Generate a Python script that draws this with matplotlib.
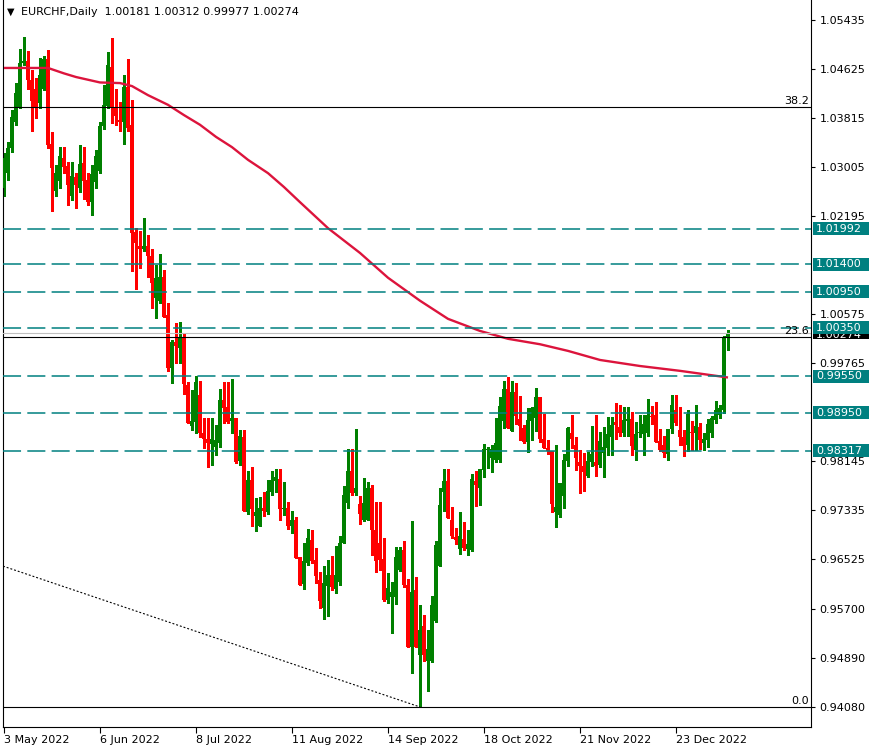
import numpy as np
import matplotlib
matplotlib.use("Agg")
import matplotlib.pyplot as plt
from matplotlib.patches import Rectangle
from matplotlib.transforms import blended_transform_factory

plt.rcParams['font.family'] = ['DejaVu Sans']
plt.rcParams['lines.scale_dashes'] = False

# ---------------- data ----------------
opens = [1.0266, 1.0291, 1.0332, 1.0375, 1.0400, 1.0473, 1.0476, 1.0445, 1.0431, 1.0407,
         1.0431, 1.0479, 1.0340, 1.0261, 1.0278, 1.0316, 1.0302, 1.0253, 1.0284, 1.0266,
         1.0307, 1.0279, 1.0244, 1.0276, 1.0294, 1.0369, 1.0402, 1.0466, 1.0398, 1.0379,
         1.0375, 1.0433, 1.0370, 1.0193, 1.0170, 1.0165, 1.0170, 1.0154, 1.0084, 1.0079,
         1.0120, 1.0056, 0.9968, 1.0011, 1.0001, 1.0020, 0.9940, 0.9872, 0.9879, 0.9924,
         0.9862, 0.9852, 0.9843, 0.9838, 0.9844, 0.9915, 0.9904, 0.9881, 0.9886, 0.9815,
         0.9854, 0.9730, 0.9783, 0.9724, 0.9707, 0.9737, 0.9730, 0.9763, 0.9781, 0.9785,
         0.9735, 0.9737, 0.9707, 0.9717, 0.9656, 0.9611, 0.9646, 0.9684, 0.9651, 0.9618,
         0.9571, 0.9608, 0.9626, 0.9603, 0.9614, 0.9679, 0.9745, 0.9798, 0.9762, 0.9743,
         0.9717, 0.9718, 0.9771, 0.9700, 0.9680, 0.9652, 0.9585, 0.9590, 0.9590, 0.9634,
         0.9667, 0.9609, 0.9507, 0.9601, 0.9494, 0.9542, 0.9484, 0.9484, 0.9550, 0.9641,
         0.9763, 0.9781, 0.9717, 0.9689, 0.9669, 0.9686, 0.9669, 0.9667, 0.9781, 0.9771,
         0.9800, 0.9833, 0.9820, 0.9817, 0.9817, 0.9881, 0.9934, 0.9865, 0.9929, 0.9884,
         0.9870, 0.9846, 0.9881, 0.9886, 0.9921, 0.9852, 0.9836, 0.9831, 0.9730, 0.9725,
         0.9757, 0.9815, 0.9861, 0.9841, 0.9813, 0.9806, 0.9790, 0.9813, 0.9813, 0.9808,
         0.9828, 0.9836, 0.9854, 0.9879, 0.9871, 0.9861, 0.9881, 0.9884, 0.9833, 0.9861,
         0.9859, 0.9861, 0.9890, 0.9891, 0.9848, 0.9841, 0.9826, 0.9867, 0.9899, 0.9866,
         0.9854, 0.9841, 0.9862, 0.9861, 0.9871, 0.9844, 0.9850, 0.9862, 0.9883, 0.9891,
         0.9899, 1.00181]
highs = [1.0324, 1.0342, 1.0395, 1.0440, 1.0496, 1.0516, 1.0493, 1.0461, 1.0448, 1.0481,
         1.0484, 1.0494, 1.0359, 1.0304, 1.0334, 1.0334, 1.0309, 1.0309, 1.0292, 1.0337,
         1.0334, 1.0292, 1.0304, 1.0329, 1.0375, 1.0436, 1.0491, 1.0514, 1.0431, 1.0408,
         1.0453, 1.0479, 1.0412, 1.0200, 1.0195, 1.0216, 1.0188, 1.0165, 1.0139, 1.0158,
         1.0130, 1.0076, 1.0015, 1.0043, 1.0044, 1.0026, 0.9945, 0.9932, 0.9955, 0.9948,
         0.9886, 0.9886, 0.9886, 0.9874, 0.9934, 0.9945, 0.9945, 0.9950, 0.9886, 0.9866,
         0.9866, 0.9798, 0.9805, 0.9753, 0.9755, 0.9763, 0.9783, 0.9798, 0.9801, 0.9801,
         0.9780, 0.9747, 0.9732, 0.9722, 0.9656, 0.9679, 0.9702, 0.9700, 0.9671, 0.9631,
         0.9641, 0.9651, 0.9657, 0.9674, 0.9690, 0.9773, 0.9834, 0.9834, 0.9867, 0.9757,
         0.9786, 0.9780, 0.9776, 0.9747, 0.9747, 0.9687, 0.9629, 0.9614, 0.9672, 0.9672,
         0.9682, 0.9619, 0.9715, 0.9623, 0.9576, 0.9560, 0.9535, 0.9591, 0.9682, 0.9771,
         0.9801, 0.9801, 0.9738, 0.9704, 0.9730, 0.9714, 0.9700, 0.9793, 0.9798, 0.9801,
         0.9843, 0.9838, 0.9841, 0.9886, 0.9921, 0.9948, 0.9954, 0.9947, 0.9944, 0.9922,
         0.9874, 0.9902, 0.9904, 0.9936, 0.9921, 0.9893, 0.9850, 0.9831, 0.9841, 0.9779,
         0.9826, 0.9871, 0.9891, 0.9854, 0.9833, 0.9828, 0.9830, 0.9873, 0.9891, 0.9863,
         0.9871, 0.9887, 0.9887, 0.9910, 0.9907, 0.9904, 0.9904, 0.9896, 0.9879, 0.9891,
         0.9891, 0.9917, 0.9906, 0.9913, 0.9867, 0.9856, 0.9867, 0.9924, 0.9924, 0.9905,
         0.9866, 0.9900, 0.9881, 0.9907, 0.9877, 0.9862, 0.9884, 0.9889, 0.9914, 0.9907,
         1.0022, 1.00312]
lows = [1.0254, 1.0279, 1.0326, 1.0370, 1.0398, 1.0470, 1.0431, 1.0360, 1.0382, 1.0398,
        1.0428, 1.0332, 1.0228, 1.0254, 1.0266, 1.0292, 1.0238, 1.0246, 1.0233, 1.0259,
        1.0249, 1.0238, 1.0221, 1.0266, 1.0291, 1.0364, 1.0398, 1.0374, 1.0370, 1.0360,
        1.0339, 1.0360, 1.0129, 1.0099, 1.0134, 1.0162, 1.0120, 1.0068, 1.0051, 1.0076,
        1.0053, 0.9963, 0.9944, 0.9977, 0.9977, 0.9925, 0.9877, 0.9866, 0.9862, 0.9854,
        0.9836, 0.9805, 0.9808, 0.9824, 0.9838, 0.9877, 0.9877, 0.9861, 0.9811, 0.9809,
        0.9733, 0.9728, 0.9707, 0.9699, 0.9707, 0.9724, 0.9728, 0.9758, 0.9763, 0.9717,
        0.9725, 0.9702, 0.9695, 0.9654, 0.9609, 0.9603, 0.9643, 0.9646, 0.9613, 0.9571,
        0.9553, 0.9558, 0.9601, 0.9596, 0.9609, 0.9679, 0.9737, 0.9758, 0.9758, 0.9710,
        0.9715, 0.9718, 0.9659, 0.9631, 0.9634, 0.9583, 0.9580, 0.9530, 0.9578, 0.9633,
        0.9606, 0.9507, 0.9464, 0.9507, 0.9408, 0.9484, 0.9434, 0.9482, 0.9548, 0.9641,
        0.9733, 0.9720, 0.9687, 0.9677, 0.9661, 0.9667, 0.9659, 0.9666, 0.9740, 0.9742,
        0.9788, 0.9803, 0.9797, 0.9813, 0.9813, 0.9870, 0.9870, 0.9865, 0.9876, 0.9850,
        0.9844, 0.9830, 0.9850, 0.9865, 0.9846, 0.9836, 0.9826, 0.9730, 0.9706, 0.9722,
        0.9737, 0.9806, 0.9836, 0.9800, 0.9762, 0.9765, 0.9788, 0.9806, 0.9790, 0.9805,
        0.9788, 0.9824, 0.9824, 0.9852, 0.9857, 0.9857, 0.9857, 0.9824, 0.9816, 0.9854,
        0.9824, 0.9857, 0.9876, 0.9846, 0.9831, 0.9821, 0.9816, 0.9861, 0.9874, 0.9841,
        0.9823, 0.9831, 0.9833, 0.9833, 0.9834, 0.9833, 0.9838, 0.9854, 0.9877, 0.9886,
        0.9894, 0.99977]
closes = [1.0316, 1.0332, 1.0384, 1.0423, 1.0473, 1.0476, 1.0445, 1.0410, 1.0398, 1.0453,
          1.0479, 1.0337, 1.0299, 1.0291, 1.0319, 1.0301, 1.0271, 1.0286, 1.0271, 1.0306,
          1.0278, 1.0244, 1.0289, 1.0319, 1.0369, 1.0403, 1.0470, 1.0398, 1.0385, 1.0375,
          1.0433, 1.0365, 1.0192, 1.0175, 1.0165, 1.0170, 1.0154, 1.0109, 1.0117, 1.0120,
          1.0053, 0.9968, 1.0011, 1.0005, 1.0020, 0.9942, 0.9877, 0.9881, 0.9945, 0.9861,
          0.9852, 0.9844, 0.9851, 0.9849, 0.9915, 0.9902, 0.9879, 0.9886, 0.9813, 0.9856,
          0.9733, 0.9783, 0.9735, 0.9730, 0.9737, 0.9732, 0.9765, 0.9783, 0.9788, 0.9735,
          0.9737, 0.9707, 0.9717, 0.9654, 0.9609, 0.9649, 0.9687, 0.9649, 0.9624, 0.9583,
          0.9613, 0.9626, 0.9606, 0.9626, 0.9680, 0.9758, 0.9798, 0.9762, 0.9771, 0.9728,
          0.9745, 0.9771, 0.9700, 0.9649, 0.9651, 0.9585, 0.9604, 0.9598, 0.9656, 0.9667,
          0.9609, 0.9507, 0.9599, 0.9507, 0.9535, 0.9494, 0.9504, 0.9576, 0.9676, 0.9742,
          0.9781, 0.9720, 0.9690, 0.9684, 0.9690, 0.9671, 0.9677, 0.9785, 0.9775, 0.9801,
          0.9834, 0.9834, 0.9834, 0.9844, 0.9906, 0.9934, 0.9870, 0.9929, 0.9889, 0.9873,
          0.9846, 0.9883, 0.9902, 0.9921, 0.9851, 0.9836, 0.9831, 0.9744, 0.9738, 0.9779,
          0.9817, 0.9870, 0.9851, 0.9820, 0.9806, 0.9797, 0.9815, 0.9826, 0.9806, 0.9848,
          0.9838, 0.9859, 0.9874, 0.9874, 0.9861, 0.9883, 0.9884, 0.9839, 0.9859, 0.9862,
          0.9876, 0.9891, 0.9887, 0.9846, 0.9833, 0.9828, 0.9867, 0.9907, 0.9877, 0.9854,
          0.9839, 0.9892, 0.9861, 0.9873, 0.9850, 0.9851, 0.9876, 0.9886, 0.9900, 0.9902,
          1.0018, 1.00274]

# moving average (sampled at bar indices)
ma_idx = [0, 11, 15, 18, 24, 29, 32, 36, 41, 45, 49, 53, 57, 61, 66, 70, 74, 81, 89,
          96, 104, 111, 119, 126, 134, 141, 149, 159, 169, 181]
ma_val = [1.0465, 1.0465, 1.0456, 1.0450, 1.0441, 1.0440, 1.0435, 1.0420, 1.0404,
          1.0387, 1.0371, 1.0351, 1.0334, 1.0313, 1.0291, 1.0268, 1.0243, 1.0200,
          1.0159, 1.0118, 1.0080, 1.0050, 1.0030, 1.0017, 1.0008, 0.9997, 0.9982,
          0.9972, 0.9964, 0.9953]

# support / resistance levels
levels = [1.01992, 1.01400, 1.00950, 1.00350, 0.99550, 0.98950, 0.98317]
level_labels = ['1.01992', '1.01400', '1.00950', '1.00350', '0.99550', '0.98950', '0.98317']

# fibonacci levels
fib_vals = [1.0400, 1.0020, 0.9408]
fib_labels = ['38.2', '23.6', '0.0']

# trend line (bar index, price)
trend_idx = [-0.25, 104]
trend_val = [0.9641, 0.9408]

bid = 1.00274
title = 'EURCHF,Daily  1.00181 1.00312 0.99977 1.00274'

ytick_vals = [1.05435, 1.04625, 1.03815, 1.03005, 1.02195, 1.00575, 0.99765,
              0.98145, 0.97335, 0.96525, 0.95700, 0.94890, 0.94080]
xtick_idx = [0, 24, 48, 72, 96, 120, 144, 168]
xtick_lbl = ['3 May 2022', '6 Jun 2022', '8 Jul 2022', '11 Aug 2022',
             '14 Sep 2022', '18 Oct 2022', '21 Nov 2022', '23 Dec 2022']

# ---------------- figure ----------------
W, H = 875, 749
fig = plt.figure(figsize=(W / 100, H / 100), dpi=100)
ax = fig.add_axes([3 / W, 1 - 727 / H, (811 - 3) / W, 727 / H])
ax.set_xlim(-0.25, 201.75)
ax.set_ylim(0.93749, 1.05774)

o = np.array(opens); h = np.array(highs); l = np.array(lows); c = np.array(closes)
idx = np.arange(len(o))
up = c >= o
cols = np.where(up, '#008000', '#FF0000')
ax.vlines(idx, l, h, colors=cols, lw=0.75, zorder=2, antialiased=False)
bot = np.minimum(o, c)
hgt = np.maximum(np.abs(c - o), 0.00014)
ax.bar(idx, hgt, bottom=bot, width=0.78, color=cols, linewidth=0, zorder=3,
       antialiased=False)

ax.plot(ma_idx, ma_val, color='#DC143C', lw=1.7, zorder=4, solid_capstyle='butt',
        solid_joinstyle='round')

for lv in levels:
    ax.axhline(lv, color='#008080', lw=1.1, dashes=(13, 4.5), zorder=5)

ax.axhline(bid, color='#C0C0C0', lw=0.8, zorder=4)
for fv, fl in zip(fib_vals, fib_labels):
    ax.axhline(fv, color='black', lw=0.8, zorder=5)
    ax.text(201.3, fv + 0.0002, fl, ha='right', va='bottom', fontsize=8, color='black', zorder=6)

ax.plot(trend_idx, trend_val, color='black', lw=0.8, dashes=(1.4, 1.4), zorder=5)

# axes styling
for s in ['left', 'right', 'bottom']:
    ax.spines[s].set_color('black')
    ax.spines[s].set_linewidth(0.8)
ax.spines['top'].set_visible(False)
ax.yaxis.tick_right()
ax.set_yticks(ytick_vals)
ax.set_yticklabels(['%.5f' % v for v in ytick_vals])
ax.set_xticks(xtick_idx)
ax.set_xticklabels(xtick_lbl)
for t in ax.get_xticklabels():
    t.set_ha('left')
ax.tick_params(axis='y', length=3, width=0.8, pad=3, labelsize=8, colors='black')
ax.tick_params(axis='x', length=4, width=0.8, pad=2, labelsize=8, colors='black')

# right-hand price labels
tr = blended_transform_factory(fig.transFigure, ax.transData)
bh = 13 * (1.05774 - 0.93749) / 727
ax.add_patch(Rectangle((813 / W, bid - bh / 2), 56 / W, bh, transform=tr,
                       facecolor='black', edgecolor='none', clip_on=False, zorder=7))
ax.text(816 / W, bid - 0.0004, '%.5f' % bid, transform=tr, color='white', fontsize=8,
        va='center', ha='left', clip_on=False, zorder=8)
for lv, lt in zip(levels, level_labels):
    ax.add_patch(Rectangle((813 / W, lv - bh / 2), 56 / W, bh, transform=tr,
                           facecolor='#008080', edgecolor='none', clip_on=False, zorder=9))
    ax.text(816 / W, lv, lt, transform=tr, color='white', fontsize=8,
            va='center', ha='left', clip_on=False, zorder=10)

fig.text(7 / W, 1 - 12 / H, '\u25bc', fontsize=7, va='center', ha='left', color='black')
fig.text(21 / W, 1 - 12 / H, title, fontsize=8, va='center', ha='left', color='black')

fig.savefig('out.png', dpi=100, facecolor='white')
